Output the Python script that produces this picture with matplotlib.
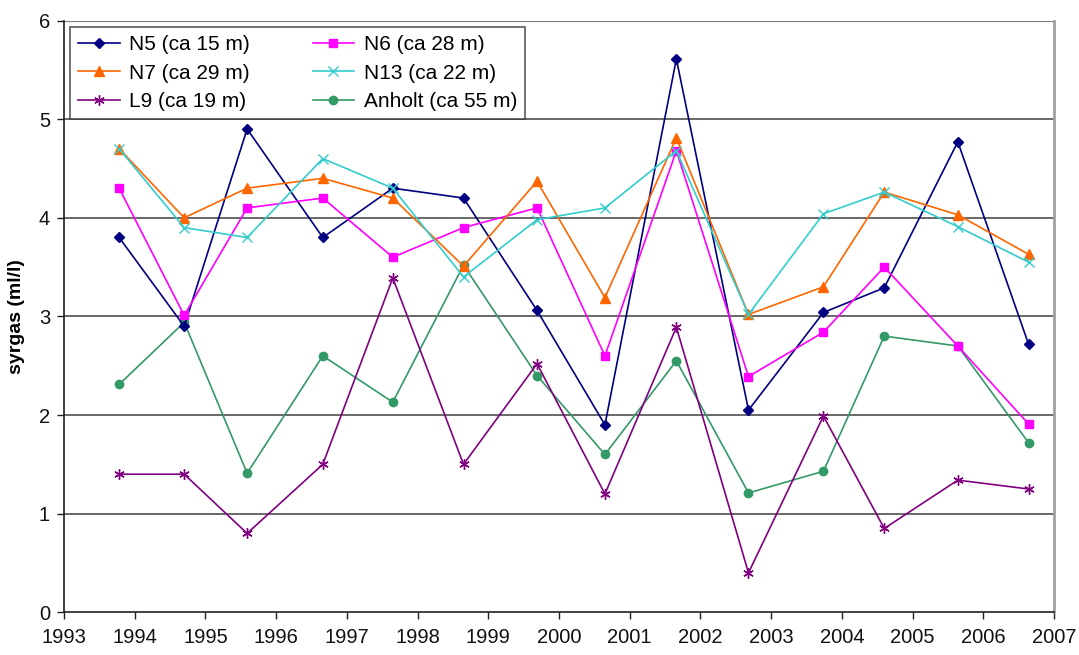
import matplotlib
matplotlib.use("Agg")
import matplotlib.pyplot as plt

plt.rcParams['font.family'] = ['Liberation Sans', 'DejaVu Sans']

# Sampling times (decimal years)
years = [1993.78, 1994.70, 1995.59, 1996.66, 1997.65, 1998.65, 1999.69,
         2000.65, 2001.66, 2002.68, 2003.74, 2004.60, 2005.64, 2006.64]

# Oxygen (ml/l) per station
n5 = [3.80, 2.90, 4.90, 3.80, 4.30, 4.20, 3.06, 1.90, 5.61, 2.05, 3.04, 3.29, 4.77, 2.72]
n6 = [4.30, 3.01, 4.10, 4.20, 3.60, 3.90, 4.10, 2.60, 4.68, 2.39, 2.84, 3.50, 2.70, 1.91]
n7 = [4.70, 4.00, 4.30, 4.40, 4.20, 3.51, 4.37, 3.19, 4.81, 3.02, 3.30, 4.26, 4.03, 3.63]
n13 = [4.70, 3.90, 3.80, 4.60, 4.30, 3.40, 3.98, 4.10, 4.68, 3.02, 4.04, 4.26, 3.91, 3.55]
l9 = [1.40, 1.40, 0.80, 1.50, 3.39, 1.50, 2.52, 1.20, 2.89, 0.40, 1.99, 0.85, 1.34, 1.25]
anholt = [2.31, 2.94, 1.41, 2.60, 2.13, 3.52, 2.40, 1.60, 2.55, 1.21, 1.43, 2.80, 2.70, 1.72]

x_ticks = list(range(1993, 2008))
y_ticks = [0, 1, 2, 3, 4, 5, 6]

fig = plt.figure(figsize=(10.79, 6.55), dpi=100)
ax = fig.add_axes([0.0593, 0.0652, 0.9175, 0.9035])

for v in y_ticks[1:-1]:
    ax.axhline(v, color='#404040', lw=1.1, zorder=1)
ax.axhline(6, color='#808080', lw=1.6, zorder=1)

series = [
    (n5, 'N5 (ca 15 m)', '#000080', dict(marker='D', ms=5.0)),
    (n7, 'N7 (ca 29 m)', '#FF6600', dict(marker='^', ms=6.5)),
    (l9, 'L9 (ca 19 m)', '#800080', dict(marker=(6, 2, 0), ms=7.5, mew=1.0)),
    (n6, 'N6 (ca 28 m)', '#FF00FF', dict(marker='s', ms=6.0)),
    (n13, 'N13 (ca 22 m)', '#33CCCC', dict(marker='x', ms=6.5, mew=1.0)),
    (anholt, 'Anholt (ca 55 m)', '#339966', dict(marker='o', ms=6.0)),
]

# draw in a stacking order that keeps the lower-value series underneath
draw_order = [5, 2, 0, 3, 1, 4]
handles = [None] * len(series)
for i in draw_order:
    vals, label, color, mk = series[i]
    line, = ax.plot(years, vals, color=color, lw=1.2, label=label,
                    mfc=color, mec=color, zorder=3 + draw_order.index(i), **mk)
    handles[i] = line

ax.set_xlim(1993, 2007)
ax.set_ylim(0, 6)
ax.set_xticks(x_ticks)
ax.set_yticks(y_ticks)
ax.tick_params(axis='both', direction='out', length=5, width=1.0,
               labelsize=14.5, color='#202020', labelcolor='#111111')
ax.tick_params(axis='x', pad=6)
ax.tick_params(axis='y', pad=5)

ax.spines['left'].set_color('#202020')
ax.spines['bottom'].set_color('#202020')
ax.spines['left'].set_linewidth(1.2)
ax.spines['bottom'].set_linewidth(1.2)
ax.spines['right'].set_color('#a0a0a0')
ax.spines['right'].set_linewidth(2.0)
ax.spines['top'].set_visible(False)

ax.set_ylabel('syrgas (ml/l)', fontsize=14, fontweight='bold', labelpad=10)

leg = ax.legend(handles=handles, ncol=2, loc='upper left',
                bbox_to_anchor=(0.006, 0.989), borderaxespad=0,
                fontsize=15, frameon=True, fancybox=False,
                handlelength=2.0, handletextpad=0.45, columnspacing=3.0,
                labelspacing=0.45, borderpad=0.4)
leg.get_frame().set_edgecolor('#303030')
leg.get_frame().set_linewidth(1.2)
leg.set_zorder(10)

fig.savefig('out.png', dpi=100)
